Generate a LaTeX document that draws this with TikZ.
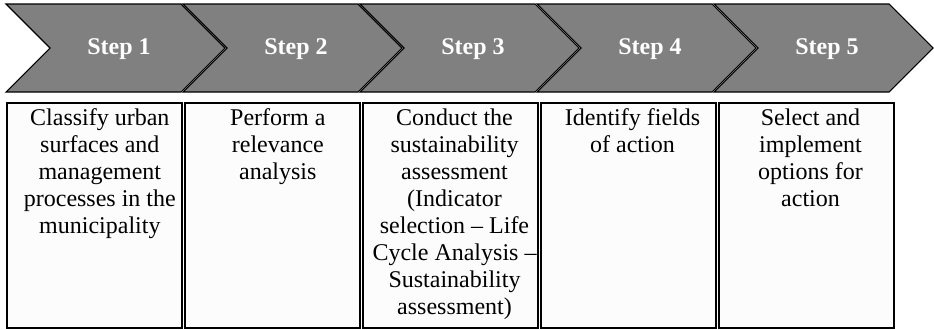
\documentclass[tikz,border=0pt]{standalone}
\usepackage{fontspec}
\setmainfont{Liberation Serif}
\usetikzlibrary{positioning}
\definecolor{chevgray}{RGB}{128,128,128}
\tikzset{
  chevron/.style={fill=chevgray, draw=black, line width=0.8pt, line join=miter},
  steplabel/.style={text=white, inner sep=0pt, font=\fontsize{18}{20}\selectfont\bfseries},
  descbox/.style={draw=black, line width=1.4pt, fill=white!99!black, minimum width=131.25pt, minimum height=168.75pt, inner sep=0pt, anchor=north},
  desctext/.style={align=center, inner sep=0pt, anchor=north, font=\fontsize{18}{20.25}\selectfont}
}

\begin{document}
\begin{tikzpicture}[x=0.75pt, y=-0.75pt]
  \useasboundingbox (0,0) rectangle (934,329);

  % the five chevrons along the top
  \foreach \n in {1,...,5} {
    \pgfmathsetmacro{\l}{6+177*(\n-1)}
    \filldraw[chevron] (\l,4) -- (\l+175,4) -- (\l+219,48) -- (\l+175,92) -- (\l,92) -- (\l+44,48) -- cycle;
    \node[steplabel] (step\n) at (\l+113,49) {Step \n};
  }

  % boxes under each step
  \foreach \n in {1,...,5} {
    \pgfmathsetmacro{\c}{94.5+178*(\n-1)}
    \node[descbox] (box\n) at (\c,102) {};
  }

  \node[desctext] (txt1) at ([xshift=4pt, yshift=-5pt]box1.north) {Classify urban\\surfaces and\\management\\processes in the\\municipality};
  \node[desctext] (txt2) at ([xshift=4pt, yshift=-5pt]box2.north) {Perform a\\relevance\\analysis};
  \node[desctext] (txt3) at ([xshift=3pt, yshift=-5pt]box3.north) {Conduct the\\sustainability\\assessment\\(Indicator\\selection -- Life\\Cycle Analysis --\\Sustainability\\assessment)};
  \node[desctext] (txt4) at ([xshift=3pt, yshift=-5pt]box4.north) {Identify fields\\of action};
  \node[desctext] (txt5) at ([xshift=3pt, yshift=-5pt]box5.north) {Select and\\implement\\options for\\action};
\end{tikzpicture}
\end{document}
